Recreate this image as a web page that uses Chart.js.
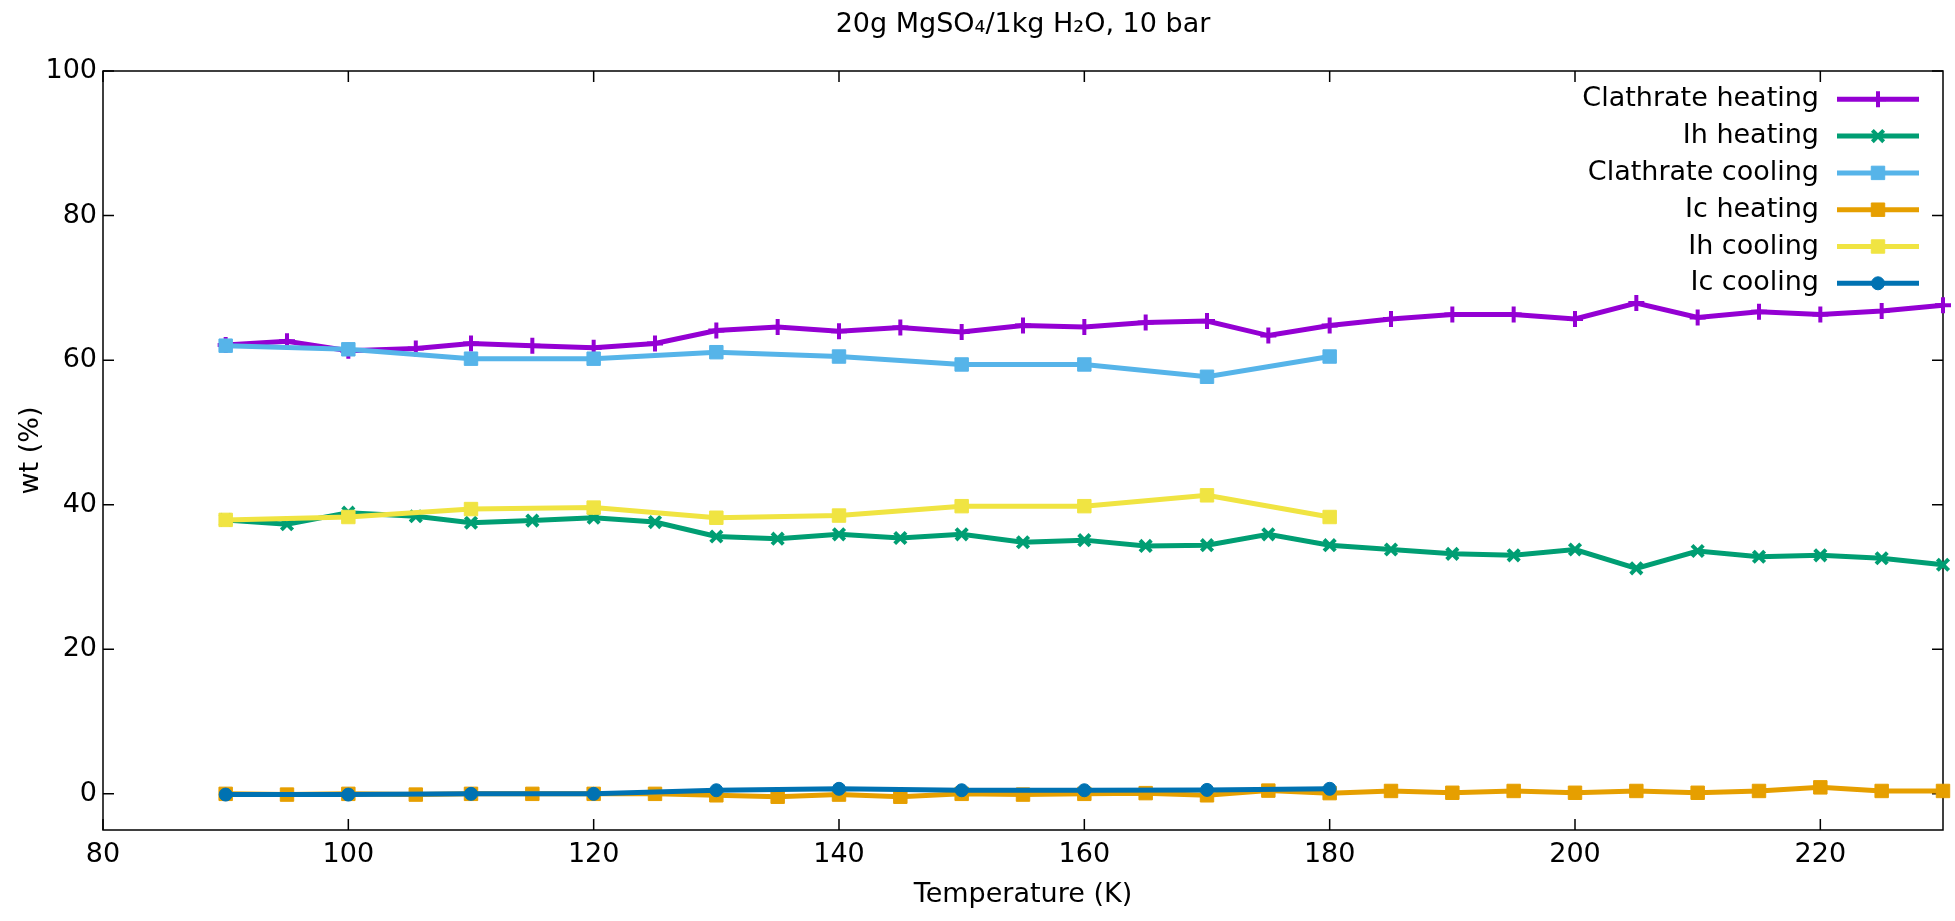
<!DOCTYPE html>
<html>
<head>
<meta charset="utf-8">
<script src="https://cdn.jsdelivr.net/npm/chart.js@4.4.1/dist/chart.umd.min.js"></script>
<style>
html, body { margin: 0; padding: 0; background: #fff; }
#wrap { width: 1955px; height: 921px; }
</style>
</head>
<body>
<div id="wrap"><canvas id="chart" width="1955" height="921"></canvas></div>
<script>
// temperatures (K)
const heatTemps = [90, 95, 100, 105.5, 110, 115, 120, 125, 130, 135, 140, 145, 150, 155, 160, 165, 170, 175, 180, 185, 190, 195, 200, 205, 210, 215, 220, 225, 230];
const coolTemps = [90, 100, 110, 120, 130, 140, 150, 160, 170, 180];

// wt (%)
const clathrateHeating = [62.1, 62.6, 61.3, 61.6, 62.3, 62.0, 61.7, 62.3, 64.1, 64.6, 64.0, 64.5, 63.9, 64.8, 64.6, 65.2, 65.4, 63.4, 64.8, 65.7, 66.3, 66.3, 65.7, 67.9, 65.9, 66.7, 66.3, 66.8, 67.6];
const ihHeating = [37.9, 37.3, 38.9, 38.4, 37.5, 37.8, 38.2, 37.6, 35.6, 35.3, 35.9, 35.4, 35.9, 34.8, 35.1, 34.3, 34.4, 35.9, 34.4, 33.8, 33.2, 33.0, 33.8, 31.2, 33.6, 32.8, 33.0, 32.6, 31.7];
const icHeating = [0, -0.1, 0, -0.1, 0, 0, 0, 0, -0.2, -0.4, -0.1, -0.4, 0, -0.1, 0, 0.1, -0.2, 0.45, 0.1, 0.4, 0.15, 0.4, 0.15, 0.4, 0.15, 0.4, 0.9, 0.4, 0.4];
const clathrateCooling = [62.0, 61.5, 60.2, 60.2, 61.1, 60.5, 59.4, 59.4, 57.7, 60.5];
const ihCooling = [37.9, 38.3, 39.4, 39.6, 38.2, 38.5, 39.8, 39.8, 41.3, 38.3];
const icCooling = [-0.1, -0.1, 0, 0, 0.5, 0.7, 0.5, 0.5, 0.55, 0.7];

const xTicks = [80, 100, 120, 140, 160, 180, 200, 220];
const yTicks = [0, 20, 40, 60, 80, 100];

const FONT = 'DejaVu Sans';

const series = [
    { label: 'Clathrate heating', x: heatTemps, y: clathrateHeating, color: '#9400d3', style: 'cross', r: 8 },
    { label: 'Ih heating', x: heatTemps, y: ihHeating, color: '#009e73', style: 'crossRot', r: 8 },
    { label: 'Clathrate cooling', x: coolTemps, y: clathrateCooling, color: '#56b4e9', style: 'rect', r: 9.5 },
    { label: 'Ic heating', x: heatTemps, y: icHeating, color: '#e69f00', style: 'rect', r: 9.5 },
    { label: 'Ih cooling', x: coolTemps, y: ihCooling, color: '#f0e442', style: 'rect', r: 9.5 },
    { label: 'Ic cooling', x: coolTemps, y: icCooling, color: '#0072b2', style: 'circle', r: 6.5 }
];

const datasets = series.map((s, i) => ({
    label: s.label,
    data: s.x.map((t, j) => ({ x: t, y: s.y[j] })),
    borderColor: s.color,
    backgroundColor: s.color,
    borderWidth: 5,
    pointStyle: s.style,
    pointRadius: s.r,
    pointBorderWidth: s.style === 'cross' || s.style === 'crossRot' ? 4 : 1,
    pointBorderColor: s.color,
    pointBackgroundColor: s.color,
    order: series.length - i,
    tension: 0,
    clip: false
}));

// gnuplot-like frame with inward ticks + right-aligned key
const framePlugin = {
    id: 'frame',
    beforeDatasetsDraw(chart) {
        const { ctx, chartArea: a, scales } = chart;
        ctx.save();
        ctx.strokeStyle = '#000';
        ctx.lineWidth = 1.5;
        ctx.strokeRect(a.left, a.top, a.right - a.left, a.bottom - a.top);
        ctx.beginPath();
        xTicks.forEach(v => {
            const px = scales.x.getPixelForValue(v);
            ctx.moveTo(px, a.bottom); ctx.lineTo(px, a.bottom - 11);
            ctx.moveTo(px, a.top); ctx.lineTo(px, a.top + 11);
        });
        yTicks.forEach(v => {
            const py = scales.y.getPixelForValue(v);
            ctx.moveTo(a.left, py); ctx.lineTo(a.left + 11, py);
            ctx.moveTo(a.right, py); ctx.lineTo(a.right - 11, py);
        });
        ctx.stroke();
        ctx.restore();
    },
    afterDraw(chart) {
        const ctx = chart.ctx;
        const textRight = 1819, lineL = 1837, lineR = 1919, top = 99.3, step = 36.8;
        ctx.save();
        ctx.font = '27px "' + FONT + '"';
        ctx.textAlign = 'right';
        ctx.textBaseline = 'middle';
        series.forEach((s, i) => {
            const y = top + i * step;
            ctx.fillStyle = '#000';
            ctx.fillText(s.label, textRight, y);
            ctx.strokeStyle = s.color;
            ctx.lineWidth = 5;
            ctx.beginPath();
            ctx.moveTo(lineL, y); ctx.lineTo(lineR, y);
            ctx.stroke();
            ctx.fillStyle = s.color;
            ctx.lineWidth = datasets[i].pointBorderWidth;
            Chart.helpers.drawPoint(ctx, { pointStyle: s.style, radius: s.r, borderWidth: datasets[i].pointBorderWidth, rotation: 0 }, (lineL + lineR) / 2, y);
        });
        ctx.restore();
    }
};

new Chart(document.getElementById('chart'), {
    type: 'line',
    data: { datasets },
    options: {
        responsive: false,
        animation: false,
        layout: { padding: { left: 0, right: 10, top: 0, bottom: 0 } },
        plugins: {
            legend: { display: false },
            tooltip: { enabled: false },
            title: {
                display: true,
                fullSize: false,
                text: '20g MgSO₄/1kg H₂O, 10 bar',
                color: '#000',
                font: { family: FONT, size: 27, weight: 'normal', lineHeight: 1.2 },
                padding: { top: 9, bottom: 29.6 }
            }
        },
        scales: {
            x: {
                type: 'linear',
                min: 80, max: 230,
                grid: { display: false, drawTicks: false },
                border: { display: false },
                ticks: { stepSize: 20, includeBounds: false, padding: 9, color: '#000', font: { family: FONT, size: 27 } },
                title: { display: true, text: 'Temperature (K)', color: '#000', font: { family: FONT, size: 27 }, padding: { top: 0, bottom: 10 } },
                afterFit(scale) { scale.height = 91; }
            },
            y: {
                type: 'linear',
                min: -5, max: 100,
                grid: { display: false, drawTicks: false },
                border: { display: false },
                ticks: { stepSize: 20, includeBounds: false, padding: 6, color: '#000', font: { family: FONT, size: 27 } },
                title: { display: true, text: 'wt (%)', color: '#000', font: { family: FONT, size: 27 }, padding: { top: 15, bottom: 0 } },
                afterFit(scale) { scale.width = 103; }
            }
        }
    },
    plugins: [framePlugin]
});
</script>
</body>
</html>
